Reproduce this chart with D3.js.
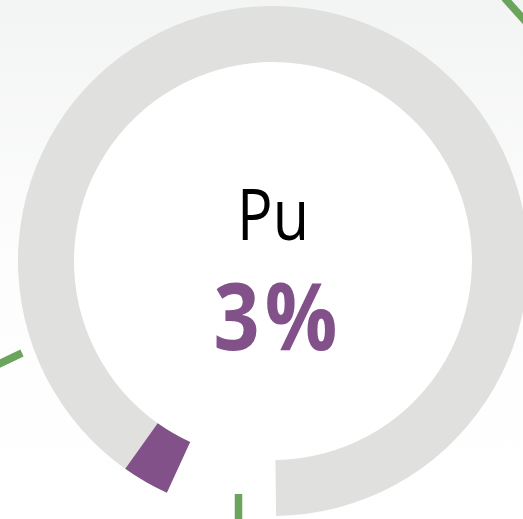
<!DOCTYPE html>
<html><head><meta charset="utf-8">
<script src="https://cdn.jsdelivr.net/npm/d3@7"></script>
<style>html,body{margin:0;padding:0;background:#fff;overflow:hidden}</style>
</head><body>
<svg id="chart" width="523" height="519"></svg>
<script>
// data
const label = "Pu";
const value = 0.03;           // share shown by the gauge
const valueLabel = "3%";
// decorative fragments of surrounding connector lines (x1,y1,x2,y2)
const connectorLines = [
  [504.5, -2, 545, 43],
  [22, 353, -20, 373],
  [238.5, 494, 238.5, 530]
];

const W = 523, H = 519;
const cx = 273, cy = 261, rOuter = 255, rInner = 199;
const deg = Math.PI / 180;
const startA = 204.6 * deg, trackEnd = (360 + 179.3) * deg;

const svg = d3.select("#chart");
const defs = svg.append("defs");
const grad = defs.append("linearGradient").attr("id", "bg").attr("x1", 0).attr("y1", 0).attr("x2", 0).attr("y2", 1);
grad.append("stop").attr("offset", "0%").attr("stop-color", "#f3f4f4");
grad.append("stop").attr("offset", "50%").attr("stop-color", "#fdfdfd");
grad.append("stop").attr("offset", "100%").attr("stop-color", "#ffffff");
svg.append("rect").attr("width", W).attr("height", H).attr("fill", "url(#bg)");

svg.append("g").selectAll("line").data(connectorLines).join("line")
  .attr("x1", d => d[0]).attr("y1", d => d[1]).attr("x2", d => d[2]).attr("y2", d => d[3])
  .attr("stroke", "#6aa55b").attr("stroke-width", 7.5);

const g = svg.append("g").attr("transform", `translate(${cx},${cy})`);
g.append("circle").attr("r", rInner).attr("fill", "#ffffff");

const angle = d3.scaleLinear().domain([0, 1]).range([startA, startA + 2 * Math.PI]);
const arc = d3.arc().innerRadius(rInner).outerRadius(rOuter);
g.append("path").attr("d", arc({startAngle: startA, endAngle: trackEnd})).attr("fill", "#e0e0df");
g.append("path").attr("d", arc({startAngle: angle(0), endAngle: angle(value)})).attr("fill", "#82518a");

g.append("text").attr("x", 0).attr("y", 240 - cy).attr("text-anchor", "middle")
  .attr("font-family", "'Open Sans', sans-serif").attr("font-size", 72).attr("fill", "#000")
  .attr("textLength", 72).attr("lengthAdjust", "spacingAndGlyphs")
  .text(label);
g.append("text").attr("x", 5).attr("y", 350 - cy).attr("text-anchor", "middle")
  .attr("font-family", "'Open Sans', sans-serif").attr("font-weight", 700).attr("font-size", 94).attr("fill", "#82518a")
  .attr("letter-spacing", 6)
  .attr("textLength", 129).attr("lengthAdjust", "spacingAndGlyphs")
  .text(valueLabel);
</script>
</body></html>
